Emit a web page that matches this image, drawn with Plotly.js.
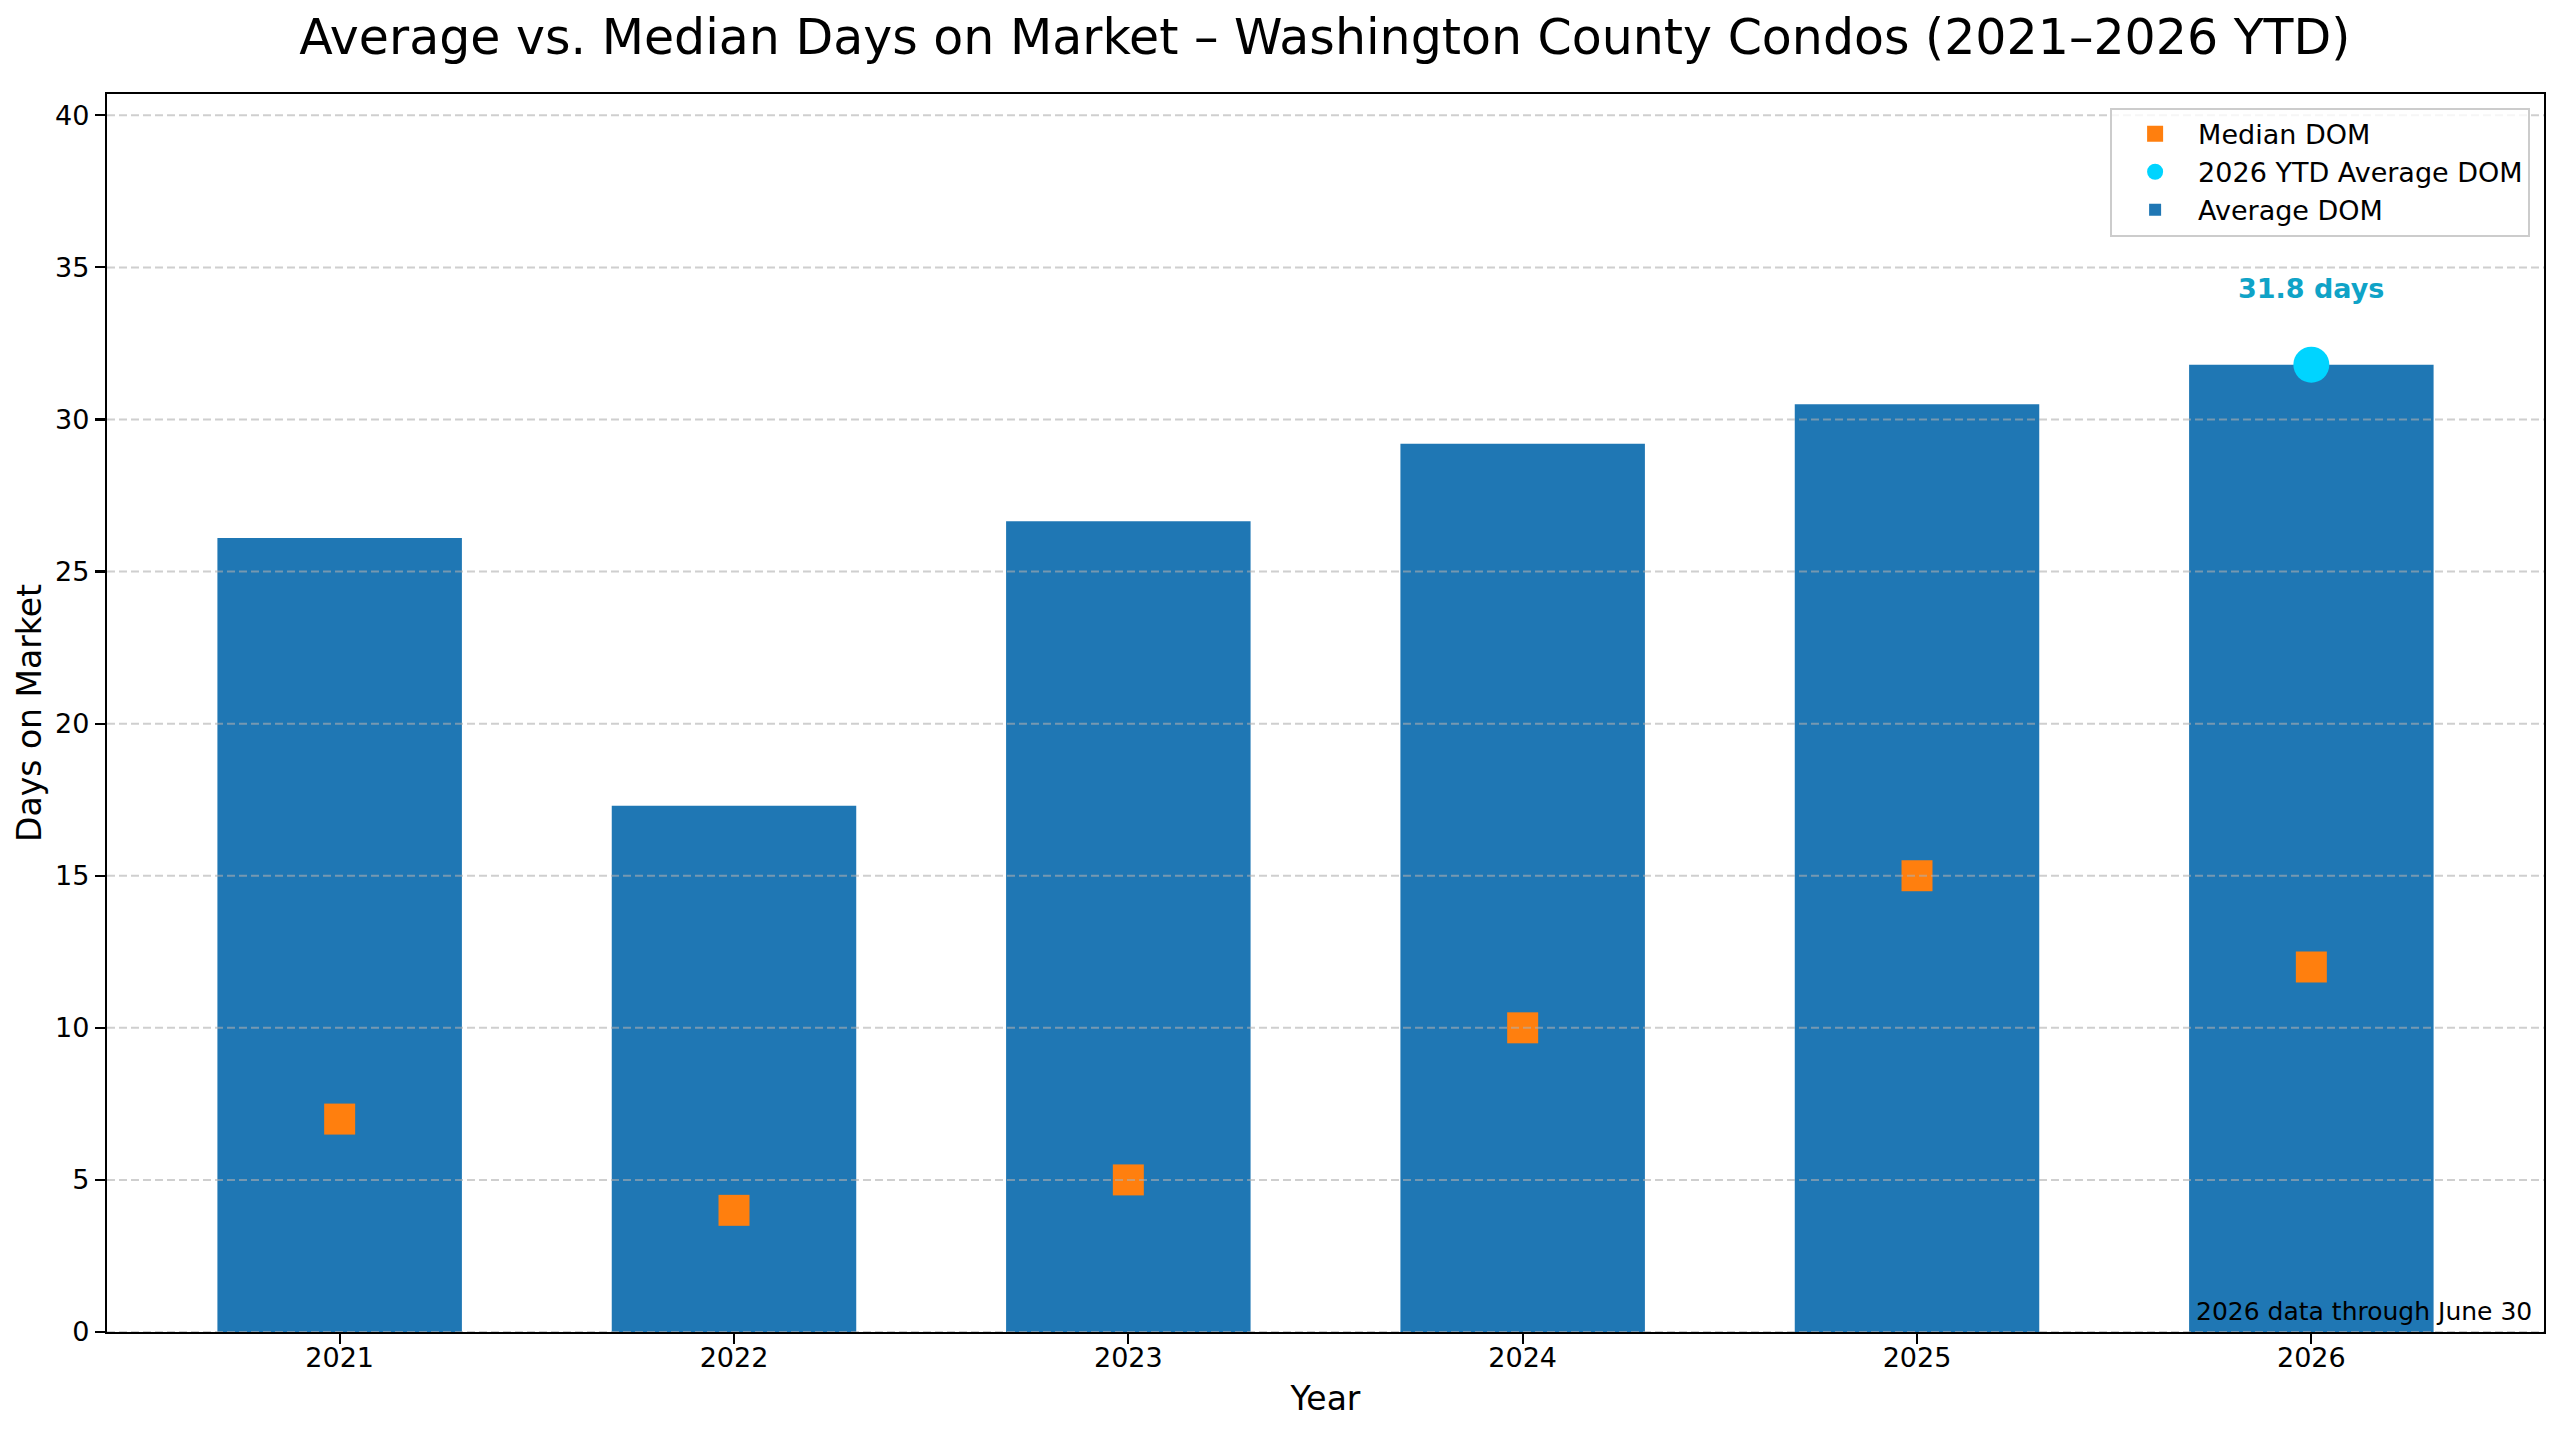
<!DOCTYPE html>
<html>
<head>
<meta charset="utf-8">
<script src="https://cdn.plot.ly/plotly-3.0.1.min.js"></script>
<style>html,body{margin:0;padding:0;background:#fff;}#chart{width:2560px;height:1431px;}</style>
</head>
<body>
<div id="chart"></div>
<script>
// ---- data ----
const years = ['2021', '2022', '2023', '2024', '2025', '2026'];
const averageDom = [26.1, 17.3, 26.65, 29.2, 30.5, 31.8];
const medianDom = [7, 4, 5, 10, 15, 12];
const yTicks = [0, 5, 10, 15, 20, 25, 30, 35, 40];
const ytdIndex = years.length - 1;
const ytdYear = years[ytdIndex];
const ytdAvg = averageDom[ytdIndex];
const chartTitle = 'Average vs. Median Days on Market – Washington County Condos (2021–2026 YTD)';
const footnote = '2026 data through June 30';

const FONT = 'DejaVu Sans, sans-serif';

const traces = [
  {
    type: 'bar', name: 'Average DOM', x: years, y: averageDom,
    width: 0.62, marker: {color: '#1f77b4', line: {width: 0}},
    legendrank: 3, hoverinfo: 'skip'
  },
  {
    type: 'scatter', mode: 'markers', name: 'Median DOM', x: years, y: medianDom,
    marker: {symbol: 'square', size: 31, color: '#ff7f0e'},
    legendrank: 1
  },
  {
    type: 'scatter', mode: 'markers', name: '2026 YTD Average DOM', x: [ytdYear], y: [ytdAvg],
    marker: {symbol: 'circle', size: 36, color: '#00d4ff'},
    legendrank: 2
  }
];

const gridShapes = yTicks.map(v => ({
  type: 'line', xref: 'paper', yref: 'y', x0: 0, x1: 1, y0: v, y1: v,
  line: {color: 'rgba(175,175,175,0.6)', width: 2, dash: '8px,4px'},
  layer: 'above'
}));

const layout = {
  width: 2560, height: 1431,
  margin: {l: 107, r: 16, t: 94, b: 99, pad: 0},
  paper_bgcolor: '#ffffff', plot_bgcolor: '#ffffff',
  font: {family: FONT, size: 27, color: '#000'},
  title: {
    text: chartTitle, font: {family: FONT, size: 49, color: '#000'},
    x: 0.5175, xanchor: 'center', y: 0.974, yanchor: 'middle', yref: 'container'
  },
  showlegend: true,
  legend: {
    x: 0.9943, y: 0.989, xanchor: 'right', yanchor: 'top',
    bgcolor: 'rgba(255,255,255,0.8)', bordercolor: '#cccccc', borderwidth: 2,
    font: {family: FONT, size: 27, color: '#000'},
    traceorder: 'normal', itemsizing: 'trace', itemwidth: 76, tracegroupgap: 0
  },
  xaxis: {
    type: 'category', range: [-0.59, 5.59],
    showgrid: false, zeroline: false,
    showline: true, linecolor: '#000', linewidth: 2.2, mirror: true,
    ticks: 'outside', ticklen: 10, tickwidth: 2.2, tickcolor: '#000',
    ticklabelstandoff: -10,
    tickfont: {family: FONT, size: 27, color: '#000'},
    title: {text: 'Year', font: {family: FONT, size: 33, color: '#000'}, standoff: 15},
    automargin: false
  },
  yaxis: {
    range: [0, 40.7], tickvals: yTicks, ticktext: yTicks.map(String),
    showgrid: false, zeroline: false,
    showline: true, linecolor: '#000', linewidth: 2.2, mirror: true,
    ticks: 'outside', ticklen: 10, tickwidth: 2.2, tickcolor: '#000',
    tickfont: {family: FONT, size: 27, color: '#000'},
    title: {text: 'Days on Market', font: {family: FONT, size: 33, color: '#000'}, standoff: 4},
    automargin: false
  },
  shapes: gridShapes,
  annotations: [
    {
      x: ytdIndex, y: ytdAvg + 2.5, xref: 'x', yref: 'y',
      text: '<b>' + ytdAvg.toFixed(1) + ' days</b>', showarrow: false,
      xanchor: 'center', yanchor: 'middle',
      font: {family: FONT, size: 27, color: '#0fa3c7'}
    },
    {
      x: 0.996, y: 0.003, xref: 'x domain', yref: 'y domain',
      text: footnote, showarrow: false, xanchor: 'right', yanchor: 'bottom',
      font: {family: FONT, size: 25, color: '#000'}
    }
  ]
};

Plotly.newPlot('chart', traces, layout, {displayModeBar: false, staticPlot: true});
</script>
</body>
</html>
